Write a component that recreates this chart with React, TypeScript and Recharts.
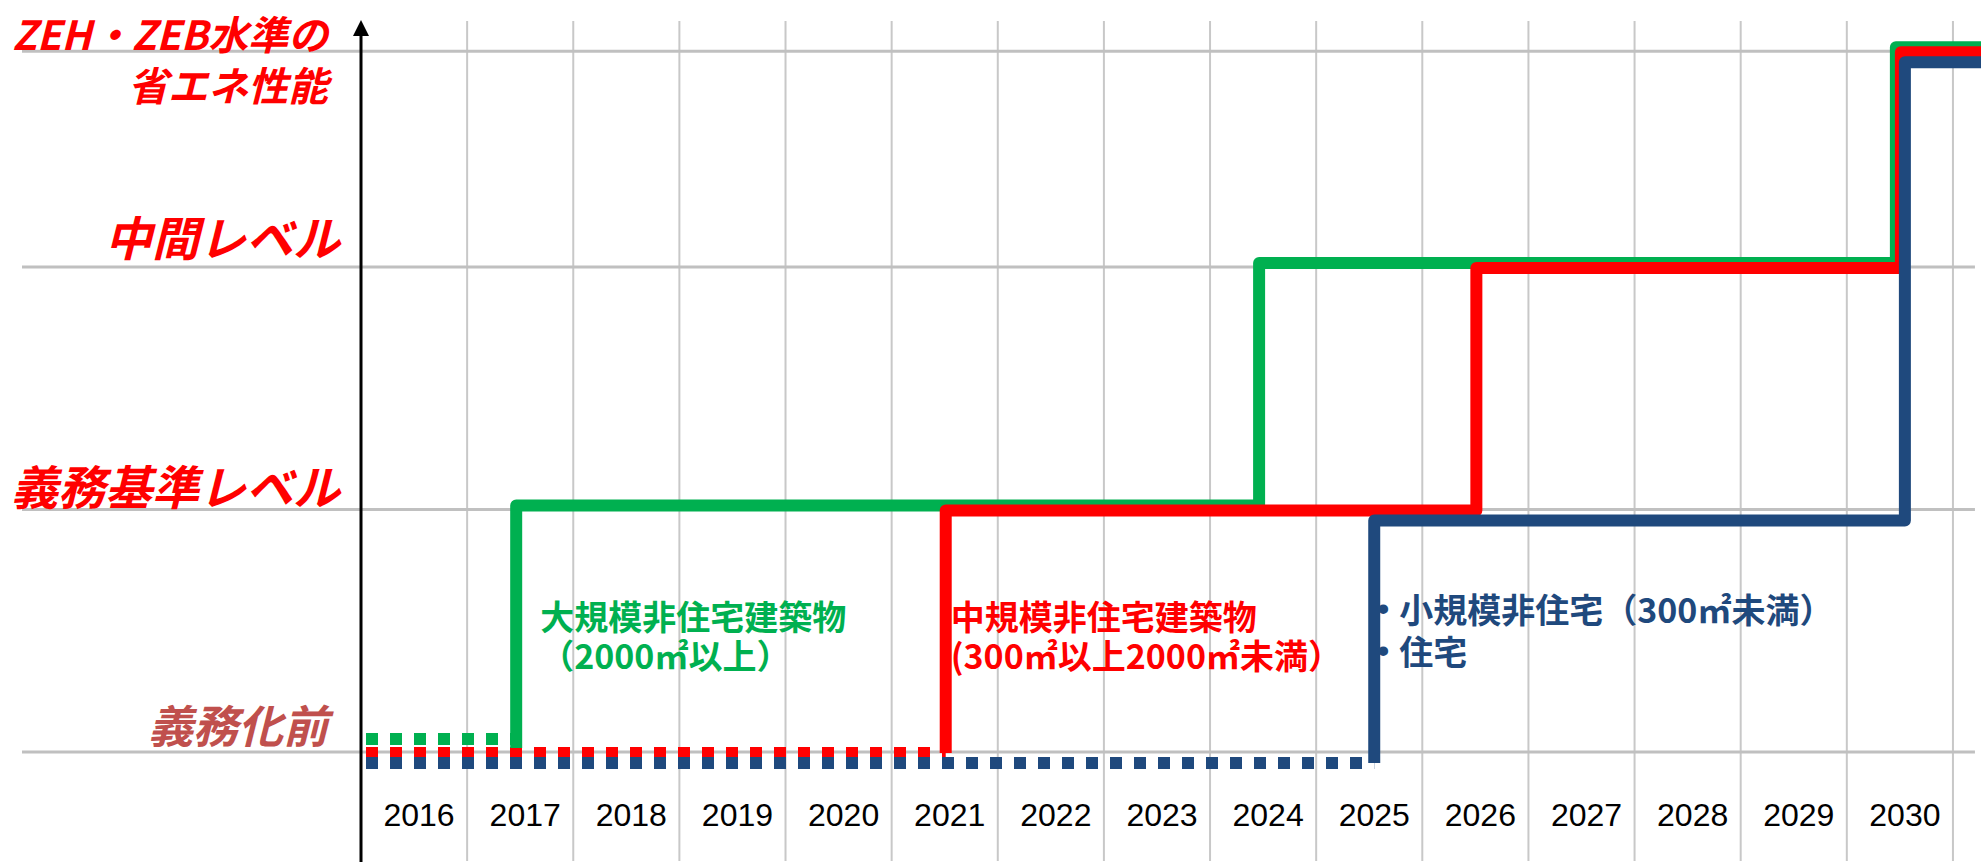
import { LineChart, Line, XAxis, YAxis, ReferenceLine, ReferenceDot } from "recharts";

// x categories (one band per year)
const years = [2016, 2017, 2018, 2019, 2020, 2021, 2022, 2023, 2024, 2025, 2026, 2027, 2028, 2029, 2030];

// the four performance levels on the y axis
const levelValues = [0, 1, 2, 2.89];
const levelLabels = [["義務化前"], ["義務基準レベル"], ["中間レベル"], ["ZEH・ZEB水準の", "省エネ性能"]];

// year at which each building class reaches the next level, and which level
const largeStepYears = [2017, 2024, 2030];
const largeStepLevels = [1, 2, 3];
const mediumStepYears = [2021, 2026, 2030];
const mediumStepLevels = [1, 2, 3];
const smallStepYears = [2025, 2030];
const smallStepLevels = [1, 3];

const largeNote = ["大規模非住宅建築物", "（2000㎡以上）"];
const mediumNote = ["中規模非住宅建築物", "(300㎡以上2000㎡未満）"];
const smallNote = ["小規模非住宅（300㎡未満）", "住宅"];

const W = 1981;
const H = 862;
const AXIS_X = 361;
const TOP = 21;
const BOTTOM = 861;
const BASE_Y = 752;
const X_UNIT = 106.13;
const Y_UNIT = 242.5;

const xLo = years[0] - 0.5;
const xHi = xLo + (W - AXIS_X) / X_UNIT;
const yLo = -(BOTTOM - BASE_Y) / Y_UNIT;
const yHi = (BASE_Y - TOP) / Y_UNIT;
const gridLeft = xLo - (AXIS_X - 22) / X_UNIT;
const gridRight = years[years.length - 1] + 0.5 + 22 / X_UNIT;

const JP = "'Noto Sans CJK JP', 'Noto Sans', sans-serif";

const series = [
  {
    key: "large", steps: largeStepYears, levels: largeStepLevels, color: "#00B050",
    dx: -4, dy: -4, dotDy: -13, note: largeNote, noteDx: 20, noteDy: [-137, -98], bullet: false,
  },
  {
    key: "medium", steps: mediumStepYears, levels: mediumStepLevels, color: "#FF0000",
    dx: 1, dy: 1, dotDy: 1, note: mediumNote, noteDx: 6, noteDy: [-137, -98], bullet: false,
  },
  {
    key: "small", steps: smallStepYears, levels: smallStepLevels, color: "#1F497D",
    dx: 5, dy: 11, dotDy: 11, note: smallNote, noteDx: 14, noteDy: [-144, -102], bullet: true,
  },
];

function stepPoints(steps: number[], levels: number[]) {
  const pts = [{ x: steps[0], y: levelValues[0] }];
  steps.forEach((_, i) => {
    pts.push({ x: i + 1 < steps.length ? steps[i + 1] : xHi + 1, y: levelValues[levels[i]] });
  });
  return pts;
}

function dottedPoints(steps: number[]) {
  return [{ x: xLo, y: levelValues[0] }, { x: steps[0], y: levelValues[0] }];
}

const levelStyle = [
  { size: 45, color: "#C0504D", x: 328, dy: [-29] },
  { size: 47, color: "#FF0000", x: 340, dy: [-25] },
  { size: 47, color: "#FF0000", x: 340, dy: [-32] },
  { size: 40, color: "#FF0000", x: 328, dy: [-18, 33] },
];

const YearTick = (props: any) => {
  const { x, y, payload } = props;
  return (
    <text x={x + 5} y={y - 46} textAnchor="middle" dominantBaseline="central"
      fontSize={32} fontFamily="'Liberation Sans', Arial, sans-serif" fill="#000">
      {payload.value}
    </text>
  );
};

const LevelTick = (props: any) => {
  const { y, payload } = props;
  const i = levelValues.indexOf(payload.value);
  if (i < 0) return <g />;
  const st = levelStyle[i];
  return (
    <g>
      {levelLabels[i].map((t, k) => (
        <text key={k} x={st.x} y={y + st.dy[k]} textAnchor="end" dominantBaseline="central"
          fontSize={st.size} fontWeight={700} fontStyle="italic" fontFamily={JP} fill={st.color}>
          {t}
        </text>
      ))}
    </g>
  );
};

const AxisArrow = (p: any) => {
  const top = Math.min(p.y1, p.y2);
  const x = p.x1;
  return (
    <g>
      <line x1={x} x2={x} y1={top + 4} y2={H} stroke="#000" strokeWidth={3} />
      <polygon points={`${x},${top - 1} ${x - 8},${top + 15} ${x + 8},${top + 15}`} fill="#000" />
    </g>
  );
};

function renderNote(p: any, s: (typeof series)[number]) {
  const { cx, cy } = p;
  return (
    <g>
      {s.note.map((t, k) => (
        <g key={k}>
          {s.bullet && (
            <text x={cx + s.noteDx} y={cy + s.noteDy[k]} textAnchor="middle" dominantBaseline="central"
              fontSize={34} fontWeight={700} fontFamily="'Liberation Sans', Arial" fill={s.color}>
              •
            </text>
          )}
          <text x={cx + s.noteDx + (s.bullet ? 16 : 0)} y={cy + s.noteDy[k]} dominantBaseline="central"
            fontSize={34} fontWeight={700} fontFamily={JP} fill={s.color}>
            {t}
          </text>
        </g>
      ))}
    </g>
  );
}

export default function App() {
  return (
    <div style={{ position: "absolute", left: 0, top: 0, width: W, height: H, background: "#fff" }}>
      <LineChart width={W} height={H} margin={{ top: TOP, right: 0, bottom: 0, left: 0 }}>
        <XAxis xAxisId={0} type="number" dataKey="x" domain={[xLo, xHi]} allowDataOverflow
          ticks={years} interval={0} height={1} axisLine={false} tickLine={false}
          tickSize={0} tickMargin={0} tick={YearTick} />
        <YAxis yAxisId={0} type="number" domain={[yLo, yHi]} allowDataOverflow
          ticks={levelValues} interval={0} width={AXIS_X} axisLine={false} tickLine={false}
          tickSize={0} tickMargin={0} tick={LevelTick} />
        {series.map((s) => (
          <XAxis key={"x" + s.key} xAxisId={s.key} type="number" dataKey="x" hide allowDataOverflow
            domain={[xLo - s.dx / X_UNIT, xHi - s.dx / X_UNIT]} />
        ))}
        {series.map((s) => (
          <YAxis key={"y" + s.key} yAxisId={s.key} type="number" hide allowDataOverflow
            domain={[yLo + s.dy / Y_UNIT, yHi + s.dy / Y_UNIT]} />
        ))}
        {series.map((s) => (
          <YAxis key={"yd" + s.key} yAxisId={s.key + "-dot"} type="number" hide allowDataOverflow
            domain={[yLo + s.dotDy / Y_UNIT, yHi + s.dotDy / Y_UNIT]} />
        ))}

        {years.map((yr) => (
          <ReferenceLine key={"v" + yr} x={yr + 0.5} stroke="#C8C8C8" strokeWidth={2} />
        ))}
        {levelValues.map((v) => (
          <ReferenceLine key={"h" + v} ifOverflow="visible" stroke="#C0C0C0" strokeWidth={3}
            segment={[{ x: gridLeft, y: v }, { x: gridRight, y: v }]} />
        ))}
        <ReferenceLine x={xLo} ifOverflow="visible" shape={AxisArrow} />

        {series.map((s) => (
          <Line key={"d" + s.key} data={dottedPoints(s.steps)} xAxisId={s.key} yAxisId={s.key + "-dot"}
            dataKey="y" type="linear" stroke={s.color} strokeWidth={12} strokeDasharray="12 12"
            strokeDashoffset={(((19 + s.dx) % 24) + 24) % 24} strokeLinecap="butt"
            dot={false} activeDot={false} isAnimationActive={false} />
        ))}
        {series.map((s) => (
          <Line key={"s" + s.key} data={stepPoints(s.steps, s.levels)} xAxisId={s.key} yAxisId={s.key}
            dataKey="y" type="stepBefore" stroke={s.color} strokeWidth={12} strokeLinejoin="round"
            strokeLinecap="butt" dot={false} activeDot={false} isAnimationActive={false} />
        ))}

        {series.map((s) => (
          <ReferenceDot key={"n" + s.key} x={s.steps[0]} y={levelValues[0]} r={0}
            ifOverflow="visible" shape={(p: any) => renderNote(p, s)} />
        ))}
      </LineChart>
    </div>
  );
}
